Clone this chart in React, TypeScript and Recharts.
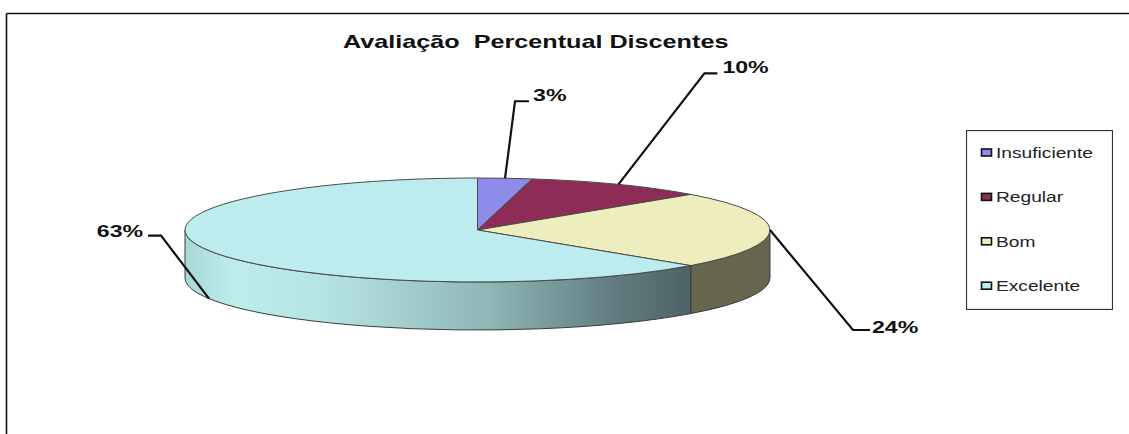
import React from "react";
import { PieChart, Pie, Legend } from "recharts";

const categories = ["Insuficiente", "Regular", "Bom", "Excelente"];
const percentages = [3, 10, 24, 63];
const topColors = ["#8E8CEB", "#8E2C58", "#EDEDBE", "#BCECEE"];
const chartTitle = "Avaliação  Percentual Discentes";

const data = categories.map((name, i) => ({ name, value: percentages[i], fill: topColors[i] }));

// layout of the flattened 3D pie
const WIDTH = 1129;
const HEIGHT = 434;
const CX = 477.5;
const CY = 230;
const RX = 292.5;
const RY = 52;
const DEPTH = 48;
const FONT = "'Liberation Sans', Arial, sans-serif";

// leader line: offset of elbow from the slice edge, horizontal run, text gap and baseline shift
const leaders = [
  { dx: 10, dy: -77, run: 14, gap: 4, base: 0 },
  { dx: 86, dy: -111, run: 13, gap: 5, base: 0 },
  { dx: 83, dy: 100, run: 17, gap: 2, base: 3 },
  { dx: -48, dy: -63, run: -13, gap: 5, base: 1 },
];

const rad = (d: number) => (d * Math.PI) / 180;
// Recharts angles (counter-clockwise from 3 o'clock) to points on the ellipse
const px = (a: number) => CX + RX * Math.cos(rad(a));
const py = (a: number, drop = 0) => CY - RY * Math.sin(rad(a)) + drop;

function wallPath(a0: number, a1: number) {
  return (
    `M${px(a0)},${py(a0)} A${RX},${RY} 0 0 1 ${px(a1)},${py(a1)} ` +
    `L${px(a1)},${py(a1, DEPTH)} A${RX},${RY} 0 0 0 ${px(a0)},${py(a0, DEPTH)} Z`
  );
}

function Slice3D(props: any) {
  const { startAngle, endAngle, fill, index } = props;
  // visible wall: the part of the rim below the horizontal (angles between 0 and -180)
  const wallStart = Math.min(startAngle, 0);
  const wallEnd = Math.max(endAngle, -180);
  const hasWall = wallStart > wallEnd;
  const large = Math.abs(startAngle - endAngle) > 180 ? 1 : 0;
  const top =
    `M${CX},${CY} L${px(startAngle)},${py(startAngle)} ` +
    `A${RX},${RY} 0 ${large} 1 ${px(endAngle)},${py(endAngle)} Z`;
  return (
    <g>
      {hasWall && (
        <path
          d={wallPath(wallStart, wallEnd)}
          fill={index === 3 ? "url(#wallExcelente)" : "#66664F"}
          stroke="#3c3c3c"
          strokeWidth={1}
        />
      )}
      <path d={top} fill={fill} stroke="#4a4a4a" strokeWidth={1} strokeLinejoin="round" />
    </g>
  );
}

function SliceLabel(props: any) {
  const { midAngle, index, value } = props;
  const l = leaders[index];
  const onRim = Math.sin(rad(midAngle)) < -0.1;
  const x0 = px(midAngle);
  const y0 = py(midAngle, onRim ? DEPTH : 0);
  const x1 = x0 + l.dx;
  const y1 = y0 + l.dy;
  const x2 = x1 + l.run;
  const tx = l.run > 0 ? x2 + l.gap : x2 - l.gap;
  return (
    <g>
      <polyline
        points={`${x0},${y0} ${x1},${y1} ${x2},${y1}`}
        fill="none"
        stroke="#111"
        strokeWidth={2.2}
      />
      <text
        transform={`translate(${tx},${y1 + l.base}) scale(1.36,1)`}
        textAnchor={l.run > 0 ? "start" : "end"}
        fontFamily={FONT}
        fontWeight="bold"
        fontSize={17}
        fill="#111"
      >
        {`${value}%`}
      </text>
    </g>
  );
}

function BoxLegend({ payload }: any) {
  return (
    <svg width={147} height={180} style={{ display: "block" }}>
      <rect x={0.5} y={0.5} width={146} height={179} fill="#fff" stroke="#333" strokeWidth={1.2} />
      {(payload || []).map((p: any, i: number) => {
        const y = 23 + i * 44.4;
        return (
          <g key={p.value}>
            <rect x={15.5} y={y - 4} width={10} height={7} fill={p.payload?.fill ?? p.color} stroke="#111" strokeWidth={1.6} />
            <text
              transform={`translate(30,${y + 5}) scale(1.37,1)`}
              fontFamily={FONT}
              fontSize={14}
              fill="#222"
            >
              {p.value}
            </text>
          </g>
        );
      })}
    </svg>
  );
}

export default function App() {
  return (
    <div style={{ position: "absolute", left: 0, top: 0, width: WIDTH, height: HEIGHT, background: "#fff" }}>
      <PieChart width={WIDTH} height={HEIGHT} margin={{ top: 0, right: 0, bottom: 0, left: 0 }}>
        <defs>
          <linearGradient id="wallExcelente" gradientUnits="userSpaceOnUse" x1={185} y1={0} x2={692} y2={0}>
            <stop offset="0" stopColor="#AAD8D8" />
            <stop offset="0.1" stopColor="#BCECEC" />
            <stop offset="0.27" stopColor="#B6E4E4" />
            <stop offset="0.6" stopColor="#90B6B6" />
            <stop offset="0.85" stopColor="#607C7E" />
            <stop offset="1" stopColor="#4E6266" />
          </linearGradient>
        </defs>
        <line x1={6.5} y1={13.5} x2={WIDTH} y2={13.5} stroke="#111" strokeWidth={1.6} />
        <line x1={6.5} y1={13.5} x2={6.5} y2={HEIGHT} stroke="#111" strokeWidth={1.6} />
        <text
          transform="translate(343,48) scale(1.37,1)"
          fontFamily={FONT}
          fontWeight="bold"
          fontSize={18.4}
          fill="#111"
          style={{ whiteSpace: "pre" }}
        >
          {chartTitle}
        </text>
        <Pie
          data={data}
          dataKey="value"
          nameKey="name"
          cx={CX}
          cy={CY}
          innerRadius={0}
          outerRadius={RX}
          startAngle={90}
          endAngle={-270}
          paddingAngle={0}
          isAnimationActive={false}
          shape={Slice3D}
          label={SliceLabel}
          labelLine={false}
        />
        <Legend
          content={BoxLegend}
          itemSorter={null}
          layout="vertical"
          wrapperStyle={{ position: "absolute", left: 966, top: 130, width: 147, height: 180, bottom: "auto", right: "auto" }}
        />
      </PieChart>
    </div>
  );
}
